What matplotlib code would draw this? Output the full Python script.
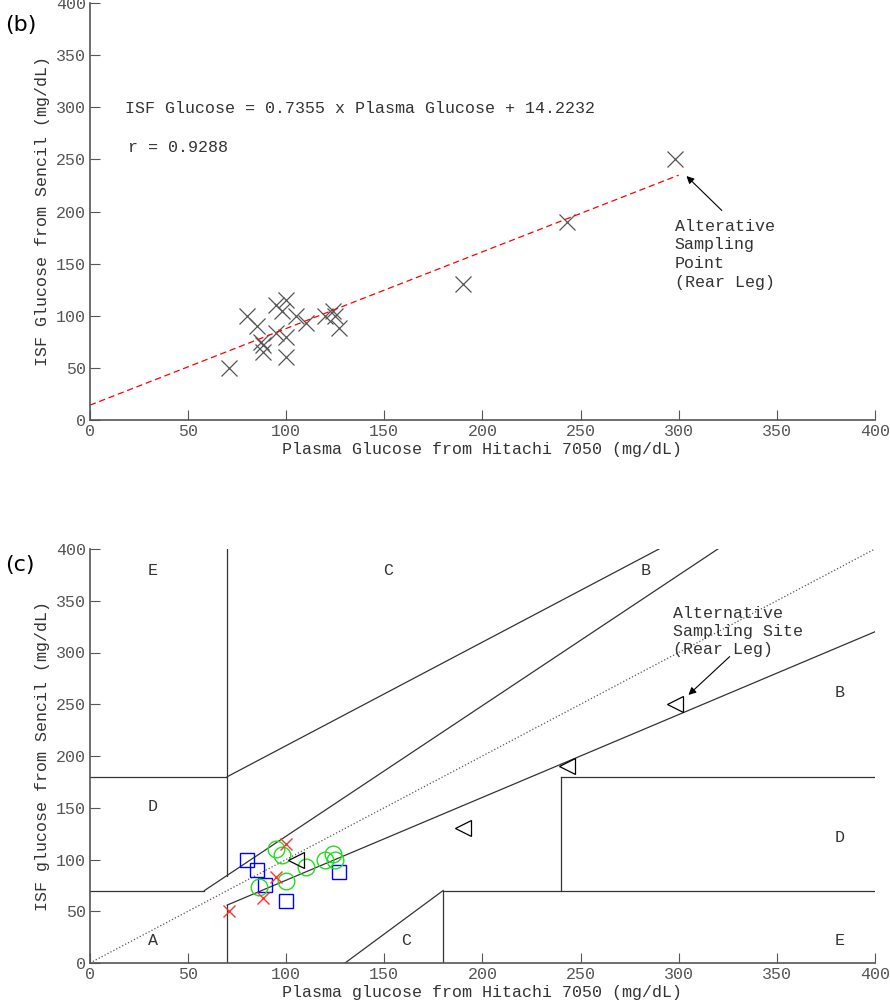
import numpy as np
import matplotlib
matplotlib.use("Agg")
from matplotlib import pyplot as plt

plt.rcParams['font.family'] = ['Liberation Mono', 'DejaVu Sans Mono']

# panel (b): ISF vs plasma glucose
plasma_b = [71, 80, 85, 87, 88, 88, 95, 95, 100, 98, 100, 100, 105, 110, 120, 124, 125, 127,
            190, 243, 298]
isf_b = [50, 100, 90, 75, 72, 65, 83, 110, 115, 105, 80, 60, 100, 93, 100, 105, 100, 88,
         130, 190, 250]
slope, intercept = 0.7355, 14.2232
fit_x = [0, 300]

# panel (c): Clarke error grid, per-group points
sq_x = [80, 85, 89, 100, 127]
sq_y = [100, 90, 75, 60, 88]
circ_x = [95, 98, 86, 100, 110, 120, 124, 125]
circ_y = [110, 104, 73, 79, 93, 100, 105, 100]
rx_x = [71, 100, 95, 88]
rx_y = [50, 115, 83, 63]
tri_x = [105, 190, 243, 298]
tri_y = [100, 130, 190, 250]

zone_lines = [
    ([0, 175 / 3], [70, 70]),
    ([175 / 3, 320], [70, 400]),
    ([70, 70], [84, 400]),
    ([0, 70], [180, 180]),
    ([70, 290], [180, 400]),
    ([70, 70], [0, 56]),
    ([70, 400], [56, 320]),
    ([180, 180], [0, 70]),
    ([180, 400], [70, 70]),
    ([240, 240], [70, 180]),
    ([240, 400], [180, 180]),
    ([130, 180], [0, 70]),
]
zone_labels = [("E", 32, 379), ("C", 152, 379), ("B", 283, 379), ("B", 382, 261),
               ("D", 32, 151), ("D", 382, 121), ("A", 32, 22), ("C", 161, 22), ("E", 382, 22)]

grey = '#555555'
txt = '#333333'
fig = plt.figure(figsize=(8.9, 10), dpi=100)
ax1 = fig.add_axes([0.101, 0.58, 0.882, 0.417])
ax2 = fig.add_axes([0.101, 0.037, 0.882, 0.414])


def style(ax):
    ax.set_xlim(0, 400)
    ax.set_ylim(0, 400)
    ax.set_xticks(range(0, 401, 50))
    ax.set_yticks(range(0, 401, 50))
    for s in ['top', 'right']:
        ax.spines[s].set_visible(False)
    for s in ['left', 'bottom']:
        ax.spines[s].set_color(grey)
        ax.spines[s].set_linewidth(1.2)
    ax.tick_params(direction='in', length=7, color=grey, labelcolor=grey, labelsize=12, pad=3)


def arrow(ax, tail, head):
    ax.annotate('', xy=head, xytext=tail,
                arrowprops=dict(arrowstyle='-|>', color='black', lw=0.8,
                                shrinkA=0, shrinkB=0, mutation_scale=11))


style(ax1)
ax1.plot(plasma_b, isf_b, 'x', color=grey, markersize=11, markeredgewidth=0.9)
fx = np.array(fit_x)
ax1.plot(fx, slope * fx + intercept, '--', color='red', linewidth=0.9, dashes=(5, 3))
ax1.text(17.8, 299, f"ISF Glucose = {slope} x Plasma Glucose + {intercept}", fontsize=12,
         va='center', color=txt)
ax1.text(19.4, 261, "r = 0.9288", fontsize=12, va='center', color=txt)
ax1.text(298, 193, "Alterative\nSampling\nPoint\n(Rear Leg)", ha='left', va='top',
         fontsize=12, color=txt, linespacing=1.3)
arrow(ax1, (322, 201), (304, 234))
ax1.set_xlabel("Plasma Glucose from Hitachi 7050 (mg/dL)", fontsize=12, color=txt, labelpad=2)
ax1.set_ylabel("ISF Glucose from Sencil (mg/dL)", fontsize=12, color=txt, labelpad=4)

style(ax2)
ax2.plot([0, 400], [0, 400], ':', color=grey, linewidth=0.9)
for xs, ys in zone_lines:
    ax2.plot(xs, ys, '-', color=txt, linewidth=0.9)
for t, x, y in zone_labels:
    ax2.text(x, y, t, fontsize=12, ha='center', va='center', color=txt)
ax2.plot(sq_x, sq_y, 's', mfc='none', mec='blue', markersize=10, markeredgewidth=1.0)
ax2.plot(circ_x, circ_y, 'o', mfc='none', mec='#22dd22', markersize=12, markeredgewidth=1.0)
ax2.plot(rx_x, rx_y, 'x', color='#ff3333', markersize=9, markeredgewidth=1.0)
ax2.plot(tri_x, tri_y, '<', mfc='none', mec='black', markersize=12, markeredgewidth=0.9)
ax2.text(297, 345, "Alternative\nSampling Site\n(Rear Leg)", ha='left', va='top',
         fontsize=12, color=txt, linespacing=1.25)
arrow(ax2, (326, 296), (305, 259))
ax2.set_xlabel("Plasma glucose from Hitachi 7050 (mg/dL)", fontsize=12, color=txt, labelpad=2)
ax2.set_ylabel("ISF glucose from Sencil (mg/dL)", fontsize=12, color=txt, labelpad=4)

fig.text(0.006, 0.975, "(b)", fontsize=16, family='DejaVu Sans', va='center')
fig.text(0.006, 0.435, "(c)", fontsize=16, family='DejaVu Sans', va='center')

fig.savefig("out.png", dpi=100)
